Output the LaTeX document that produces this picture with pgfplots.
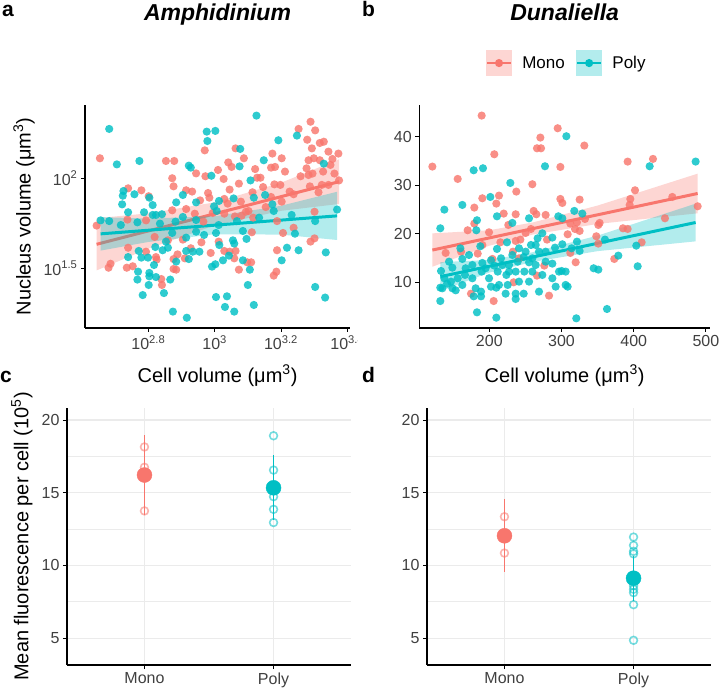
\documentclass[border=0pt]{standalone}
\usepackage{pgfplots}
\pgfplotsset{compat=1.18}
\usepackage{pgfplotstable}
\usepackage{fontspec}
\setmainfont{Liberation Sans}

\definecolor{mono}{HTML}{F8766D}
\definecolor{poly}{HTML}{00BFC4}
\definecolor{gridgray}{HTML}{EBEBEB}
\definecolor{monokey}{HTML}{FDD6D3}
\definecolor{polykey}{HTML}{B3ECED}

% ---------- Amphidinium: log10 cell volume vs log10 nucleus volume ----------
\pgfplotstableread{
lx ly
2.654 2.111
2.853 2.096
2.878 2.096
2.970 2.155
2.872 2.000
2.876 1.955
2.944 2.027
2.972 2.011
3.010 2.046
2.739 1.944
2.779 1.933
2.914 1.933
2.932 1.926
2.980 1.918
2.984 1.892
2.801 1.900
2.956 1.877
2.644 1.737
2.737 1.770
2.793 1.766
2.872 1.822
2.914 1.829
2.940 1.803
2.966 1.759
2.994 1.807
2.819 1.674
2.739 1.614
2.793 1.592
2.823 1.562
2.825 1.548
2.876 1.551
2.888 1.577
2.910 1.555
2.928 1.611
2.988 1.585
3.012 1.648
2.680 1.503
2.686 1.525
2.735 1.503
2.753 1.511
2.876 1.496
2.884 1.492
2.839 1.440
2.841 1.407
2.960 1.644
2.859 1.655
2.904 1.659
3.289 2.314
3.253 2.274
3.303 2.266
3.279 2.214
3.329 2.203
3.317 2.196
3.293 2.166
3.063 2.166
3.088 2.111
3.041 2.088
3.051 2.063
3.027 1.996
3.073 1.970
3.122 2.051
3.128 2.003
3.138 2.003
3.174 2.137
3.202 2.111
3.182 2.063
3.212 2.037
3.170 2.059
3.198 1.963
3.146 1.951
3.180 1.966
3.226 1.926
3.238 1.911
3.259 2.011
3.277 2.055
3.283 2.100
3.299 2.111
3.317 2.100
3.283 2.018
3.295 2.026
3.323 1.963
3.349 2.074
3.355 2.107
3.373 2.137
3.343 2.148
3.327 2.037
3.361 2.026
3.375 1.988
3.343 1.963
3.313 1.922
3.287 1.955
3.045 1.937
3.114 1.922
3.029 1.885
3.039 1.859
3.079 1.870
3.202 1.870
3.170 1.896
3.029 1.803
3.094 1.814
3.102 1.818
3.061 1.788
3.081 1.792
3.154 1.840
3.116 1.781
3.188 1.762
3.112 1.700
3.206 1.696
3.238 1.725
3.301 1.814
3.289 1.648
3.301 1.666
3.188 1.600
3.029 1.596
3.045 1.592
3.063 1.596
3.059 1.555
3.098 1.533
3.110 1.533
3.073 1.492
3.186 1.481
3.178 1.459
}\ampMono

\pgfplotstableread{
lx ly
2.682 2.274
2.705 2.077
2.773 2.096
2.922 2.070
2.928 2.059
2.976 2.259
3.002 2.263
2.978 2.207
2.990 2.014
2.725 1.929
2.723 1.903
2.758 1.911
2.803 1.892
2.721 1.855
2.813 1.851
2.739 1.811
2.787 1.811
2.884 1.866
2.904 1.907
2.944 1.866
2.998 1.844
2.656 1.766
2.682 1.762
2.717 1.740
2.767 1.755
2.813 1.796
2.823 1.796
2.841 1.800
2.835 1.748
2.882 1.759
2.904 1.785
2.944 1.768
3.006 1.818
3.012 1.740
2.872 1.696
2.853 1.648
2.843 1.600
2.914 1.670
2.944 1.703
2.968 1.685
3.004 1.696
2.771 1.596
2.779 1.559
2.821 1.618
2.859 1.614
2.914 1.596
2.934 1.592
2.954 1.592
2.739 1.562
2.799 1.559
2.817 1.518
2.884 1.537
2.922 1.551
2.992 1.509
3.002 1.522
2.769 1.481
2.803 1.474
2.803 1.455
2.823 1.451
2.767 1.437
2.801 1.407
2.866 1.437
2.847 1.362
2.783 1.351
3.004 1.340
2.874 1.259
2.916 1.225
3.014 1.629
3.126 2.348
3.192 2.211
3.248 2.237
3.077 2.163
3.148 2.100
3.075 2.066
3.329 2.081
3.108 1.988
3.152 1.907
3.118 1.892
3.134 1.781
3.174 1.855
3.178 1.818
3.232 1.796
3.303 1.762
3.369 1.826
3.057 1.888
3.013 1.874
3.067 1.762
3.085 1.707
3.096 1.663
3.242 1.692
3.218 1.614
3.253 1.600
3.335 1.588
3.055 1.655
3.059 1.637
3.043 1.570
3.025 1.544
3.085 1.544
3.106 1.492
3.202 1.544
3.100 1.407
3.037 1.344
3.031 1.285
3.059 1.259
3.118 1.296
3.303 1.396
3.333 1.337
}\ampPoly

% ---------- Dunaliella: cell volume vs nucleus volume ----------
\pgfplotstableread{
x y
189.4 44.41
294.7 41.79
270.7 39.86
266.0 37.65
271.6 37.65
206.9 36.41
121.1 33.86
298.4 33.79
156.2 31.31
259.6 30.21
237.4 28.69
213.4 27.86
190.3 27.31
209.7 26.21
298.4 27.17
301.1 26.34
179.2 25.38
219.9 24.14
236.5 24.00
261.4 24.69
265.1 24.00
179.2 22.07
226.3 21.79
199.6 20.27
170.0 20.69
250.3 20.14
215.3 18.20
236.5 18.48
243.0 18.76
139.5 16.00
160.8 16.27
183.9 15.86
204.2 14.76
232.8 16.27
279.9 18.76
266.0 11.31
233.7 9.93
276.2 13.38
282.7 7.17
206.0 6.06
174.6 7.58
190.3 17.65
241.1 14.89
257.7 20.96
278.0 23.86
331.6 38.21
391.6 34.89
426.7 35.45
325.1 27.03
401.8 28.96
395.3 27.17
394.4 25.93
453.5 27.58
488.6 25.65
332.5 23.03
312.2 22.07
321.4 22.34
351.0 21.79
352.8 22.21
318.7 20.96
325.1 20.55
308.5 19.86
385.1 21.10
391.6 20.96
443.3 23.17
411.0 18.20
348.2 19.45
351.0 17.93
319.6 14.07
373.1 14.76
312.2 16.00
}\dunMono

\pgfplotstableread{
x y
306.7 40.14
277.1 33.93
178.3 33.10
191.2 33.52
229.1 30.48
201.4 27.58
162.6 25.93
137.7 24.96
210.6 23.58
182.9 22.76
182.0 20.69
132.1 21.10
255.0 23.17
231.9 22.21
295.6 23.58
301.1 23.17
273.4 20.07
266.9 19.03
287.3 19.17
187.5 17.38
159.9 16.96
224.5 18.20
210.6 16.83
241.1 16.96
257.7 17.65
268.8 16.27
291.0 17.10
301.1 17.79
133.1 12.27
148.8 12.96
162.6 14.76
171.9 15.58
176.5 13.51
190.3 13.93
202.3 14.48
216.2 14.89
227.3 13.51
239.3 14.20
247.6 15.17
255.0 14.07
264.2 13.51
278.0 14.20
287.3 13.79
300.2 12.27
137.7 10.76
146.9 10.07
156.2 10.76
166.3 11.45
176.5 10.76
189.4 12.14
199.6 10.76
211.6 12.14
223.6 11.45
236.5 12.14
248.5 12.14
259.6 12.14
273.4 11.45
287.3 10.76
296.5 12.14
305.7 12.14
134.9 8.69
148.8 8.69
162.6 9.38
181.1 8.69
188.5 8.00
202.3 9.03
213.4 9.38
225.4 9.38
241.1 10.07
255.0 10.07
268.8 8.00
291.9 9.03
305.7 9.38
132.1 6.06
178.3 7.03
188.5 7.03
209.7 8.82
222.6 7.58
236.5 7.58
247.6 7.58
236.5 6.48
182.9 3.72
209.7 2.62
132.1 8.82
141.4 9.65
153.4 8.27
194.9 12.83
218.0 13.51
231.9 15.58
250.3 16.27
264.2 17.65
278.0 16.27
144.2 14.20
167.2 12.83
206.9 13.38
227.3 12.14
259.6 14.89
422.1 33.93
485.8 34.90
317.7 24.69
328.8 24.14
321.4 18.34
314.0 16.96
325.1 16.41
360.2 18.76
403.6 17.51
378.7 15.45
405.5 13.24
344.5 12.83
351.0 12.55
308.5 9.03
363.0 4.41
320.5 2.48
}\dunPoly

\pgfplotsset{
  scatterpanel/.style={
    scale only axis, anchor=south west,
    axis x line*=bottom, axis y line*=left,
    x axis line style={-}, y axis line style={-},
    axis line style={line width=1.1pt, black},
    tick align=outside, major tick length=4pt,
    tick style={line width=0.9pt, black},
    tick label style={font=\fontsize{16}{19}\selectfont, text=black!75},
    /pgf/number format/assume math mode=true,
    xlabel style={font=\fontsize{20}{24}\selectfont, at={(axis description cs:0.5,-0.2422)}, anchor=base},
    title style={font=\fontsize{23}{27}\selectfont\bfseries\itshape, at={(axis description cs:0.5,1.3498)}, anchor=base},
  },
  pt/.style={only marks, mark=*, mark size=4.1pt, color=#1, mark options={fill opacity=0.82, draw opacity=0}},
  band/.style={draw=none, fill=#1, fill opacity=0.3},
  fit/.style={#1, line width=3pt},
  dotpanel/.style={
    scale only axis, anchor=south west, width=284pt, height=257pt,
    axis x line*=bottom, axis y line*=left,
    x axis line style={-}, y axis line style={-},
    axis line style={line width=1.1pt, black},
    tick align=outside, major tick length=4pt,
    tick style={line width=0.9pt, black},
    tick label style={font=\fontsize{16}{19}\selectfont, text=black!75},
    /pgf/number format/assume math mode=true,
    xmin=0.4, xmax=2.6, ymin=3.15, ymax=20.83,
    xtick={1,2}, xticklabels={Mono,Poly},
    ytick={5,10,15,20}, minor ytick={7.5,12.5,17.5},
    minor tick length=0pt,
    xmajorgrids, ymajorgrids, yminorgrids,
    major grid style={gridgray, line width=1.2pt},
    minor grid style={gridgray, line width=0.6pt},
  },
  rep/.style={only marks, mark=o, mark size=3.9pt, color=#1, mark options={draw opacity=0.55, line width=1.6pt}},
  avg/.style={only marks, mark=*, mark size=7.5pt, color=#1},
  ebar/.style={#1, line width=1.7pt},
}

\begin{document}
\begin{tikzpicture}[x=1pt, y=1pt]
\useasboundingbox (0,0) rectangle (720,691);

% panel letters
\node[anchor=base west, inner sep=0pt, font=\fontsize{21}{25}\selectfont\bfseries] at (2,674) {a};
\node[anchor=base west, inner sep=0pt, font=\fontsize{21}{25}\selectfont\bfseries] at (362,674) {b};
\node[anchor=base west, inner sep=0pt, font=\fontsize{21}{25}\selectfont\bfseries] at (0,308) {c};
\node[anchor=base west, inner sep=0pt, font=\fontsize{21}{25}\selectfont\bfseries] at (362,308) {d};

% ---------------- a ----------------
\begin{scope}
\clip (0,0) rectangle (357,691);
\begin{axis}[scatterpanel,
  at={(85pt,363pt)}, width=265pt, height=223pt,
  xmin=2.609, xmax=3.408, ymin=1.168, ymax=2.407,
  xtick={2.8,3,3.2,3.4},
  xticklabels={10\textsuperscript{2.8},10\textsuperscript{3},10\textsuperscript{3.2},10\textsuperscript{3.4}},
  ytick={1.5,2},
  yticklabels={10\textsuperscript{1.5},10\textsuperscript{2}},
  xlabel={Cell volume (μm\textsuperscript{3})},
  ylabel={Nucleus volume (μm\textsuperscript{3})},
  ylabel style={font=\fontsize{20}{24}\selectfont, at={(axis description cs:-0.2302,0.5)}, anchor=center},
  title={Amphidinium},
]
\addplot[pt=mono] table[x=lx, y=ly] {\ampMono};
\addplot[pt=poly] table[x=lx, y=ly] {\ampPoly};
\addplot[band=mono] coordinates {(2.644,1.778) (2.8,1.805) (3.0,1.866) (3.2,1.975) (3.375,2.105)
  (3.375,1.857) (3.2,1.819) (3.0,1.738) (2.8,1.609) (2.644,1.488)} -- cycle;
\addplot[fit=mono] coordinates {(2.644,1.633) (3.375,1.981)};
\addplot[band=poly] coordinates {(2.656,1.784) (2.8,1.776) (3.0,1.789) (3.2,1.847) (3.369,1.925)
  (3.369,1.657) (3.2,1.687) (3.0,1.689) (2.8,1.646) (2.656,1.598)} -- cycle;
\addplot[fit=poly] coordinates {(2.656,1.691) (3.369,1.791)};
\end{axis}
\end{scope}

% ---------------- b ----------------
\begin{axis}[scatterpanel,
  at={(419.3pt,363pt)}, width=290.7pt, height=223pt,
  xmin=103, xmax=505.7, ymin=0.48, ymax=46.6,
  xtick={200,300,400,500}, ytick={10,20,30,40},
  xlabel={Cell volume (μm\textsuperscript{3})},
  title={Dunaliella},
  legend style={at={(axis description cs:0.505,1.188)}, anchor=center, draw=none, fill=none,
    legend columns=2, font=\fontsize{17}{20}\selectfont,
    nodes={inner sep=1pt},
    /tikz/every odd column/.append style={column sep=9pt},
    /tikz/every even column/.append style={column sep=10pt}},
]
\addlegendimage{legend image code/.code={
  \path[draw=none, fill=monokey] (0pt,-13pt) rectangle (26pt,13pt);
  \path[draw=mono, line width=2.6pt] (1pt,0pt) -- (25pt,0pt);
  \path[draw=none, fill=mono] (13pt,0pt) circle (4.1pt);}}
\addlegendentry{Mono}
\addlegendimage{legend image code/.code={
  \path[draw=none, fill=polykey] (0pt,-13pt) rectangle (26pt,13pt);
  \path[draw=poly, line width=2.6pt] (1pt,0pt) -- (25pt,0pt);
  \path[draw=none, fill=poly] (13pt,0pt) circle (4.1pt);}}
\addlegendentry{Poly}
\addplot[pt=mono, forget plot] table[x=x, y=y] {\dunMono};
\addplot[pt=poly, forget plot] table[x=x, y=y] {\dunPoly};
\addplot[band=mono, forget plot] coordinates {(121.1,20.05) (200,20.7) (260,22.3) (350,25.8) (488.6,32.4)
  (488.6,24.2) (350,22.0) (260,19.8) (200,17.5) (121.1,13.15)} -- cycle;
\addplot[fit=mono, forget plot] coordinates {(121.1,16.6) (488.6,28.3)};
\addplot[band=poly, forget plot] coordinates {(132.1,14.1) (200,14.55) (260,16.14) (350,19.58) (485.8,26.2)
  (485.8,18.4) (350,16.38) (260,14.14) (200,11.95) (132.1,8.1)} -- cycle;
\addplot[fit=poly, forget plot] coordinates {(132.1,11.1) (485.8,22.3)};
\end{axis}

% ---------------- c ----------------
\begin{axis}[dotpanel, at={(67pt,26pt)},
  ylabel={Mean fluorescence per cell (10\textsuperscript{5})},
  ylabel style={font=\fontsize{20}{24}\selectfont, at={(axis description cs:-0.1585,0.5)}, anchor=center},
]
\addplot[rep=mono] coordinates {(1,18.15) (1,16.75) (1,13.75)};
\addplot[rep=poly] coordinates {(2,18.92) (2,16.56) (2,14.73) (2,13.86) (2,12.95)};
\addplot[ebar=mono] coordinates {(1,13.47) (1,18.97)};
\addplot[ebar=poly] coordinates {(2,13.12) (2,17.58)};
\addplot[avg=mono] coordinates {(1,16.22)};
\addplot[avg=poly] coordinates {(2,15.34)};
\end{axis}

% ---------------- d ----------------
\begin{axis}[dotpanel, at={(427pt,26pt)}]
\addplot[rep=mono] coordinates {(1,13.35) (1,11.92) (1,10.85)};
\addplot[rep=poly] coordinates {(2,11.95) (2,11.38) (2,10.97) (2,10.8) (2,8.6) (2,8.36) (2,8.13) (2,7.3) (2,4.85)};
\addplot[ebar=mono] coordinates {(1,9.56) (1,14.54)};
\addplot[ebar=poly] coordinates {(2,7.57) (2,10.67)};
\addplot[avg=mono] coordinates {(1,12.04)};
\addplot[avg=poly] coordinates {(2,9.12)};
\end{axis}
\end{tikzpicture}
\end{document}
